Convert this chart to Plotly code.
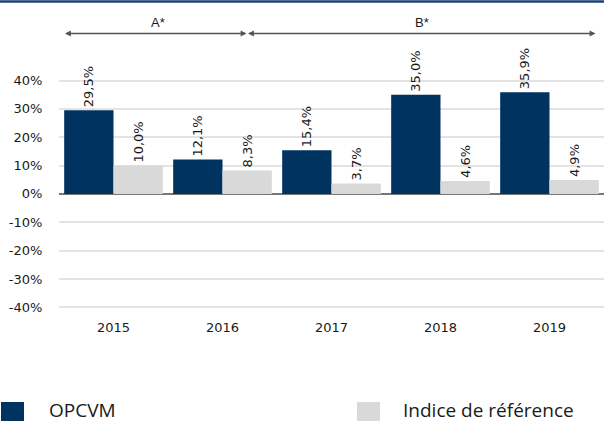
import plotly.graph_objects as go

years = ["2015", "2016", "2017", "2018", "2019"]
opcvm = [0.295, 0.121, 0.154, 0.350, 0.359]
indice = [0.100, 0.083, 0.037, 0.046, 0.049]
y_ticks = [-0.4, -0.3, -0.2, -0.1, 0.0, 0.1, 0.2, 0.3, 0.4]
y_tick_text = ["-40%", "-30%", "-20%", "-10%", "0%", "10%", "20%", "30%", "40%"]

W, H = 604, 422
L, R = 59, 0
T, B = 38, 109
PW = W - L - R
PH = H - T - B

def px(x):
    return (x - L) / PW

def py(y):
    return (H - B - y) / PH

NAVY = "#00335f"
GREY = "#d9d9d9"
TXT = "#1a1a1a"
FONT = "DejaVu Sans"

fig = go.Figure()
for name, vals, col in [("OPCVM", opcvm, NAVY), ("Indice de référence", indice, GREY)]:
    fig.add_trace(go.Bar(
        x=years, y=vals, name=name, marker_color=col, marker_line_width=0,
        texttemplate="%{y:.1%}\u202f", textposition="outside", textangle=-90,
        textfont=dict(family=FONT, size=13, color=TXT),
        cliponaxis=False, showlegend=False,
    ))

fig.update_layout(
    width=W, height=H,
    margin=dict(l=L, r=R, t=T, b=B, pad=0),
    paper_bgcolor="white", plot_bgcolor="white",
    barmode="group", bargap=0.095, bargroupgap=0,
    separators=", ",
    font=dict(family=FONT, size=13, color=TXT),
    xaxis=dict(showgrid=False, showline=False, ticks="outside", ticklen=2,
               tickcolor="rgba(0,0,0,0)", tickfont=dict(family=FONT, size=13, color=TXT)),
    yaxis=dict(range=[-0.42, 0.55], tickvals=y_ticks, ticktext=y_tick_text,
               showgrid=True, gridcolor="#e3e3e3", gridwidth=1.5,
               zeroline=True, zerolinecolor="#777777", zerolinewidth=2,
               showline=False, ticks="outside", ticklen=13, tickcolor="rgba(0,0,0,0)",
               tickfont=dict(family=FONT, size=13, color=TXT)),
)

shapes = [
    dict(type="line", xref="paper", yref="paper", x0=px(0), x1=px(604), y0=py(1.5), y1=py(1.5),
         line=dict(color="#1c4275", width=2.5)),
    dict(type="rect", xref="paper", yref="paper", x0=px(1), x1=px(24), y0=py(421), y1=py(402),
         fillcolor=NAVY, line_width=0),
    dict(type="rect", xref="paper", yref="paper", x0=px(357), x1=px(380), y0=py(421), y1=py(402),
         fillcolor=GREY, line_width=0),
]
fig.update_layout(shapes=shapes)

ann = []
arrow_y = py(33.5)
for x_tip, x_tail in [(65, 248), (248, 597)]:
    ann.append(dict(xref="paper", yref="paper", x=px(x_tip), y=arrow_y,
                    axref="pixel", ayref="pixel", ax=(x_tail - x_tip), ay=0,
                    text="", showarrow=True, arrowside="end+start", arrowhead=2,
                    arrowsize=0.9, arrowwidth=1.3, arrowcolor="#555555", standoff=0, startstandoff=0))
for label, xc in [("A*", 158), ("B*", 422)]:
    ann.append(dict(xref="paper", yref="paper", x=px(xc), y=py(22.5), text=label,
                    showarrow=False, xanchor="center", yanchor="middle",
                    font=dict(family="Liberation Sans", size=13, color=TXT)))
for label, xl in [("OPCVM", 47), ("Indice de référence", 401)]:
    ann.append(dict(xref="paper", yref="paper", x=px(xl), y=py(409.8), text=label,
                    showarrow=False, xanchor="left", yanchor="middle",
                    font=dict(family="Open Sans", size=19, color=TXT)))
fig.update_layout(annotations=ann)

fig.write_html("out.html", config={"displayModeBar": False},
               post_script="document.body.style.margin='0';document.body.style.padding='0';")
